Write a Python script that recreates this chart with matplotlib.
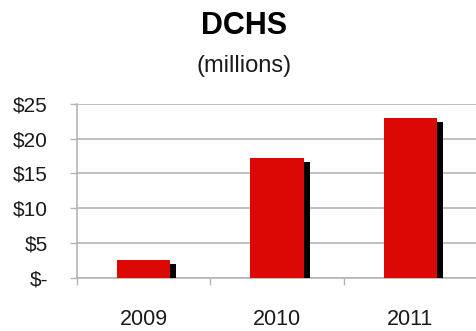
import matplotlib
matplotlib.use("Agg")
import matplotlib.pyplot as plt
import matplotlib.patheffects as pe

# DCHS funding by year, in millions of dollars
years = ["2009", "2010", "2011"]
amounts = [2.55, 17.2, 23.0]
y_ticks = [0, 5, 10, 15, 20, 25]
y_labels = ["$-", "$5", "$10", "$15", "$20", "$25"]

DPI = 100
FONT = ["Liberation Sans", "DejaVu Sans"]
fig = plt.figure(figsize=(4.77, 3.31), dpi=DPI)
ax = fig.add_axes([0.1614, 0.161, 0.8386, 0.525])

px = 72.0 / DPI  # one pixel in points
xs = range(len(years))
bars = ax.bar(xs, amounts, width=0.4, color="#dc0804", zorder=3)
for b in bars:
    b.set_path_effects([
        pe.SimplePatchShadow(offset=(6 * px, -4 * px), shadow_rgbFace="black", alpha=1.0),
        pe.Normal(),
    ])

ax.set_xlim(-0.5, 2.5)
ax.set_ylim(0, 25)

grid_c = "#b4b4b4"
ax.set_yticks(y_ticks)
ax.set_yticklabels(y_labels, family=FONT, fontsize=15, color="#1a1a1a")
ax.yaxis.grid(True, color=grid_c, linewidth=1.2, zorder=0)
ax.tick_params(axis="y", length=7 * px, width=1, color=grid_c, pad=22 * px)

# ticks on category boundaries, labels at category centres
ax.set_xticks([-0.5, 0.5, 1.5, 2.5])
ax.set_xticklabels([])
ax.set_xticks(list(xs), minor=True)
ax.set_xticklabels(years, minor=True, family=FONT, fontsize=15.5, color="#1a1a1a")
ax.tick_params(axis="x", which="major", length=7 * px, width=1, color=grid_c)
ax.tick_params(axis="x", which="minor", length=0, pad=31 * px)

for s in ["top", "right"]:
    ax.spines[s].set_visible(False)
ax.spines["left"].set_color(grid_c)
ax.spines["bottom"].set_color(grid_c)
ax.spines["left"].set_linewidth(1.2)
ax.spines["bottom"].set_linewidth(1.2)

fig.text(244 / 477, 1 - 25.5 / 331, "DCHS", ha="center", va="center",
         family=FONT, fontweight="bold", fontsize=22)
fig.text(244 / 477, 1 - 66 / 331, "(millions)", ha="center", va="center",
         family=FONT, fontsize=17, color="#1a1a1a")

fig.savefig("out.png", dpi=DPI)
